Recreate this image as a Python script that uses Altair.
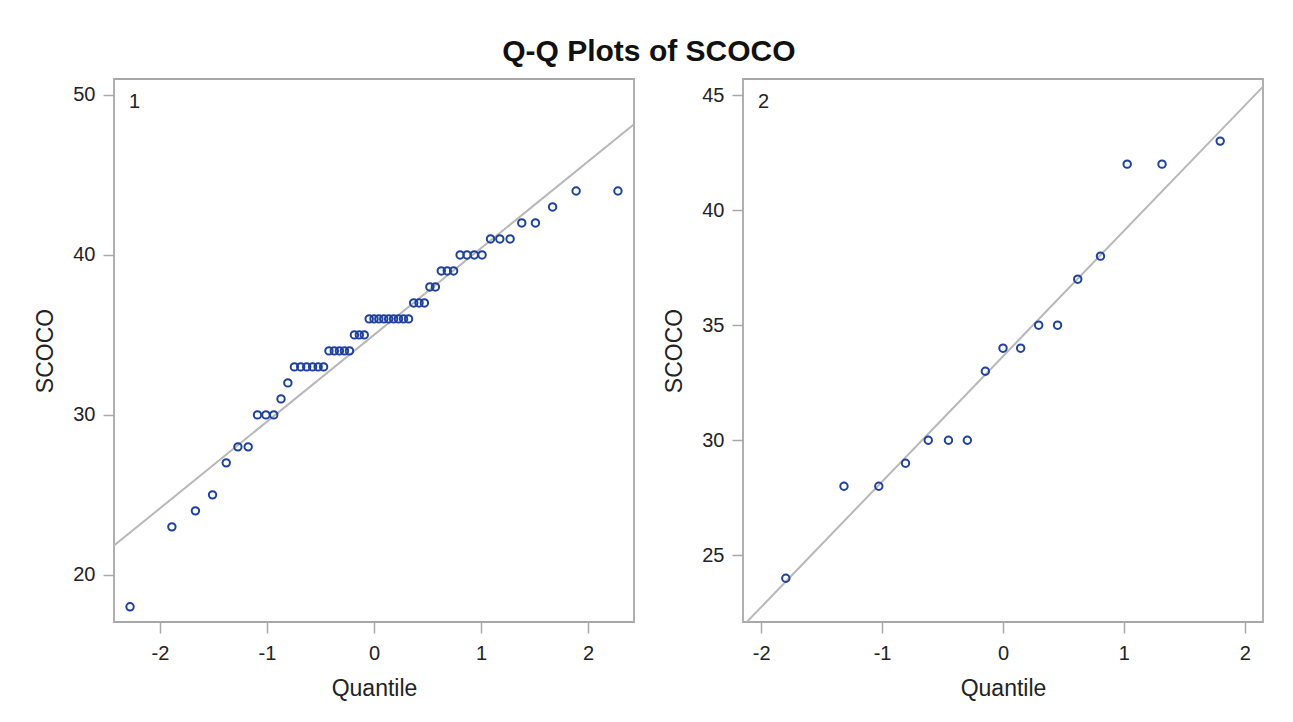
import altair as alt
import pandas as pd

TITLE = "Q-Q Plots of SCOCO"

# Panel 1 (n = 55): normal quantiles and sorted SCOCO values
left_q = [-2.280, -1.889, -1.669, -1.509, -1.381, -1.272, -1.176, -1.089, -1.010, -0.937,
          -0.869, -0.805, -0.744, -0.685, -0.629, -0.574, -0.522, -0.471, -0.421, -0.371,
          -0.323, -0.276, -0.229, -0.183, -0.137, -0.091, -0.045, 0.000, 0.045, 0.091,
          0.137, 0.183, 0.229, 0.276, 0.323, 0.371, 0.421, 0.471, 0.522, 0.574,
          0.629, 0.685, 0.744, 0.805, 0.869, 0.937, 1.010, 1.089, 1.176, 1.272,
          1.381, 1.509, 1.669, 1.889, 2.280]
left_vals = [18, 23, 24, 25, 27, 28, 28, 30, 30, 30,
             31, 32, 33, 33, 33, 33, 33, 33, 34, 34,
             34, 34, 34, 35, 35, 35, 36, 36, 36, 36,
             36, 36, 36, 36, 36, 37, 37, 37, 38, 38,
             39, 39, 39, 40, 40, 40, 40, 41, 41, 41,
             42, 42, 43, 44, 44]

# Panel 2 (n = 17)
right_q = [-1.796, -1.315, -1.027, -0.806, -0.618, -0.451, -0.295, -0.146, 0.000,
           0.146, 0.295, 0.451, 0.618, 0.806, 1.027, 1.315, 1.796]
right_vals = [24, 28, 28, 29, 30, 30, 30, 33, 34, 34, 35, 35, 37, 38, 42, 42, 43]

# Reference lines (end points)
left_line_q = [-2.43, 2.43]
left_line_v = [21.83, 48.17]
right_line_q = [-2.15, 2.15]
right_line_v = [21.93, 45.37]

x_ticks = [-2, -1, 0, 1, 2]
left_y_ticks = [20, 30, 40, 50]
right_y_ticks = [25, 30, 35, 40, 45]

FONT = "Liberation Sans"
BLUE = "#1f419e"
LINE_GRAY = "#b8b8b8"
LABEL_EXPR = "'' + datum.value"


def panel(q, vals, lq, lv, xdom, ydom, yticks, label, width, height):
    df = pd.DataFrame({"q": q, "v": vals})
    ldf = pd.DataFrame({"q": lq, "v": lv})
    tdf = pd.DataFrame({"t": [label]})
    xs = alt.Scale(domain=xdom, nice=False, zero=False)
    ys = alt.Scale(domain=ydom, nice=False, zero=False)
    xax = alt.Axis(values=x_ticks, title="Quantile", labelExpr=LABEL_EXPR,
                   labelPadding=10, titlePadding=14)
    yax = alt.Axis(values=yticks, title="SCOCO", labelExpr=LABEL_EXPR,
                   labelPadding=8, titlePadding=15)
    line = alt.Chart(ldf).mark_line(color=LINE_GRAY, strokeWidth=2, clip=True).encode(
        x=alt.X("q:Q", scale=xs, axis=xax),
        y=alt.Y("v:Q", scale=ys, axis=yax),
    )
    pts = alt.Chart(df).mark_point(
        shape="circle", filled=False, size=55, strokeWidth=2, color=BLUE, opacity=1
    ).encode(
        x=alt.X("q:Q", scale=xs, axis=xax),
        y=alt.Y("v:Q", scale=ys, axis=yax),
    )
    txt = alt.Chart(tdf).mark_text(
        align="left", baseline="top", fontSize=20, font=FONT, color="#222222"
    ).encode(x=alt.value(15), y=alt.value(13), text="t:N")
    return alt.layer(line, pts, txt).properties(width=width, height=height)


p1 = panel(left_q, left_vals, left_line_q, left_line_v, [-2.43, 2.43], [17.05, 51.0],
           left_y_ticks, "1", 520, 543)
p2 = panel(right_q, right_vals, right_line_q, right_line_v, [-2.15, 2.15], [22.1, 45.7],
           right_y_ticks, "2", 520, 543)

chart = alt.hconcat(p1, p2, spacing=27).properties(
    title=alt.TitleParams(TITLE, fontSize=30, font=FONT, fontWeight="bold",
                          anchor="middle", offset=11, color="#111111"),
    padding={"left": 25, "top": 29, "right": 5, "bottom": 5},
    background="white",
).configure_view(
    stroke="#a8a8a8", strokeWidth=1.8
).configure_axis(
    grid=False, domain=False,
    labelFont=FONT, labelFontSize=20, labelColor="#222222",
    titleFont=FONT, titleFontSize=23, titleFontWeight="normal", titleColor="#222222",
    tickSize=11, tickColor="#a8a8a8", tickWidth=1.5,
)

chart.save("out.html", embed_options={"renderer": "svg", "actions": False})
